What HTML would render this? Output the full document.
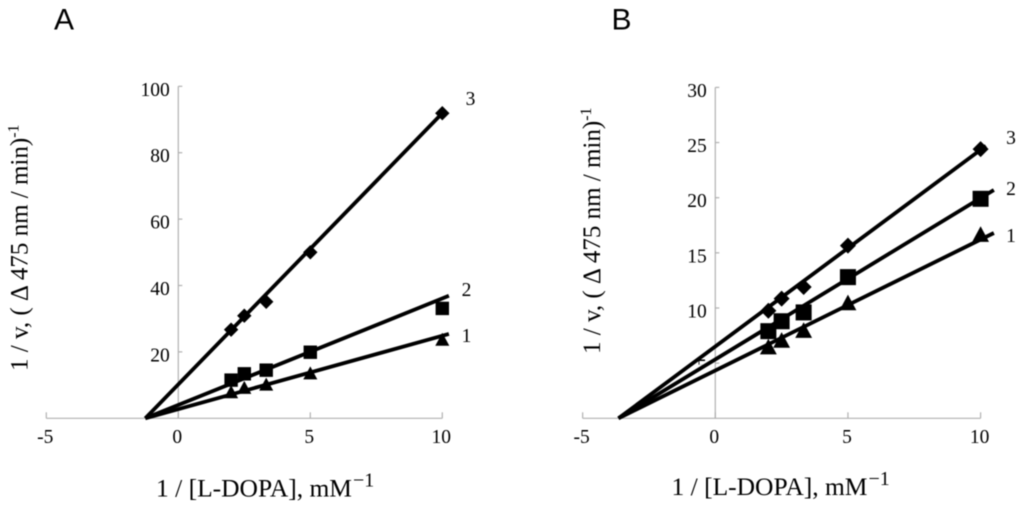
<!DOCTYPE html>
<html>
<head>
<meta charset="utf-8">
<title>Lineweaver-Burk plots</title>
<style>
html,body{margin:0;padding:0;background:#fff;width:1024px;height:509px;overflow:hidden}
svg{display:block;filter:blur(0.4px)}
text{font-family:"Liberation Serif",serif;fill:#000}
.panel{font-family:"Liberation Sans",sans-serif;font-size:30px;fill:#000}
.tick{font-size:19.5px}
.title{font-size:25.5px}
.ytitle{font-size:25px}
.num{font-size:19.5px}
</style>
</head>
<body>
<svg id="chart" xmlns="http://www.w3.org/2000/svg" width="1024" height="509" viewBox="0 0 1024 509">
<rect width="1024" height="509" fill="#fff"/>
<text class="panel" x="54" y="29.5">A</text>
<text class="panel" x="611.5" y="29.5">B</text>
</svg>
<script>
const xCategories = [2, 2.5, 3.33, 5, 10];
const xTicks = [-5, 0, 5, 10];
const yTicksA = [20, 40, 60, 80, 100];
const yTicksB = [5, 10, 15, 20, 25, 30];
const seriesNames = ['1', '2', '3'];

const a1Values = [8, 9.3, 10.3, 13.7, 23.8];
const a2Values = [11.5, 13.4, 14.5, 19.9, 33.1];
const a3Values = [26.7, 30.9, 35.1, 50, 91.9];
const b1Values = [6.5, 7.1, 8, 10.5, 16.7];
const b2Values = [7.9, 8.8, 9.6, 12.8, 19.9];
const b3Values = [9.75, 10.85, 11.9, 15.65, 24.4];

const aFitStart = [-1.25, 0];
const a1FitEnd = [10.25, 25.4];
const a2FitEnd = [10.25, 36.9];
const a3FitEnd = [10, 91.9];
const bFitStart = [-3.65, 0];
const b1FitEnd = [10.5, 16.8];
const b2FitEnd = [10.5, 20.7];
const b3FitEnd = [10.2, 24.7];

const svg = document.getElementById('chart');
const NS = 'http://www.w3.org/2000/svg';

function make(tag, attrs, text) {
  const el = document.createElementNS(NS, tag);
  for (const k in attrs) el.setAttribute(k, attrs[k]);
  if (text !== undefined) el.textContent = text;
  svg.appendChild(el);
  return el;
}

function drawMarker(kind, cx, cy, size) {
  let el;
  if (kind === 'square') {
    el = make('rect', { x: cx - size, y: cy - size, width: size * 2, height: size * 2, fill: '#000' });
  } else if (kind === 'triangle') {
    el = make('polygon', { points: `${cx},${cy - size} ${cx + size * 1.08},${cy + size} ${cx - size * 1.08},${cy + size}`, fill: '#000' });
  } else {
    el = make('polygon', { points: `${cx},${cy - size} ${cx + size},${cy} ${cx},${cy + size} ${cx - size},${cy}`, fill: '#000' });
  }
  return el;
}

function drawPanel(p) {
  const sx = v => p.x0 + v * p.xUnit;
  const sy = v => p.y0 - v * p.yUnit;
  const yMax = p.yTicks[p.yTicks.length - 1];

  const xAxis = make('line', { x1: sx(xTicks[0]), x2: sx(xTicks[xTicks.length - 1]), y1: p.y0, y2: p.y0, stroke: '#b0b0b0', 'stroke-width': 1.2 });
  
  
  const yAxis = make('line', { x1: p.x0, x2: p.x0, y1: sy(yMax), y2: p.y0, stroke: '#b0b0b0', 'stroke-width': 1.2 });
  
  

  xTicks.forEach(t => {
    const mark = make('line', { x1: sx(t), x2: sx(t), y1: p.y0 - 6, y2: p.y0, stroke: '#b0b0b0', 'stroke-width': 1.2 });
    
    
    const label = make('text', { class: 'tick', x: sx(t) - 1, y: p.y0 + 24.5, 'text-anchor': 'middle' }, String(t));
    
    
  });
  p.yTicks.forEach(t => {
    const mark = make('line', { x1: p.x0, x2: p.x0 + 4, y1: sy(t), y2: sy(t), stroke: '#b0b0b0', 'stroke-width': 1.2 });
    
    
    const label = make('text', { class: 'tick', x: p.x0 - 8.5, y: sy(t) + 9.5, 'text-anchor': 'end' }, String(t));
    
    
    if (p.maskedTick === t) {
      const mask = make('rect', { x: p.x0 - 20, y: sy(t) + 1.5, width: 15, height: 11, fill: '#fff' });
      
      
    }
  });

  const xTitle = make('text', { class: 'title', x: p.xTitleX, y: p.xTitleY });
  
  
  xTitle.innerHTML = '1 / [L-DOPA], mM<tspan dy="-10" font-size="20" dx="1">−1</tspan>';

  const yTitle = make('text', { class: 'ytitle', transform: `translate(${p.yTitleX},${p.yTitleY}) rotate(-90)` });
  
  
  yTitle.innerHTML = '1 / v, ( Δ 475 nm / min)<tspan dy="-9" font-size="16">-1</tspan>';

  p.series.forEach(s => {
    const fit = make('line', { x1: sx(p.fitStart[0]), y1: sy(p.fitStart[1]), x2: sx(s.fitEnd[0]), y2: sy(s.fitEnd[1]), stroke: '#000', 'stroke-width': 3.8 });
    
    
    s.values.forEach((v, i) => {
      const m = drawMarker(s.kind, sx(xCategories[i]), sy(v), s.size);
      
      
    });
    const lab = make('text', { class: 'num', x: s.lx, y: s.ly, 'text-anchor': 'middle' }, s.name);
    
    
  });
}

drawPanel({
  id: 'panel-a', x0: 178.3, y0: 418.3, xUnit: 26.4, yUnit: 3.32,
  yTicks: yTicksA, fitStart: aFitStart,
  xTitleX: 156, xTitleY: 496.5, yTitleX: 27.5, yTitleY: 371,
  series: [
    { name: seriesNames[0], kind: 'triangle', size: 6.5, values: a1Values, fitEnd: a1FitEnd, lx: 466.5, ly: 342 },
    { name: seriesNames[1], kind: 'square', size: 6.7, values: a2Values, fitEnd: a2FitEnd, lx: 466.5, ly: 296 },
    { name: seriesNames[2], kind: 'diamond', size: 7.2, values: a3Values, fitEnd: a3FitEnd, lx: 470.5, ly: 105 }
  ]
});

drawPanel({
  id: 'panel-b', x0: 715.3, y0: 418.3, xUnit: 26.53, yUnit: 11.03,
  yTicks: yTicksB, fitStart: bFitStart, maskedTick: 5,
  xTitleX: 671.5, xTitleY: 495, yTitleX: 600, yTitleY: 354,
  series: [
    { name: seriesNames[0], kind: 'triangle', size: 7.8, values: b1Values, fitEnd: b1FitEnd, lx: 1011, ly: 242 },
    { name: seriesNames[1], kind: 'square', size: 8, values: b2Values, fitEnd: b2FitEnd, lx: 1011, ly: 195 },
    { name: seriesNames[2], kind: 'diamond', size: 8, values: b3Values, fitEnd: b3FitEnd, lx: 1011, ly: 144 }
  ]
});
</script>
</body>
</html>
